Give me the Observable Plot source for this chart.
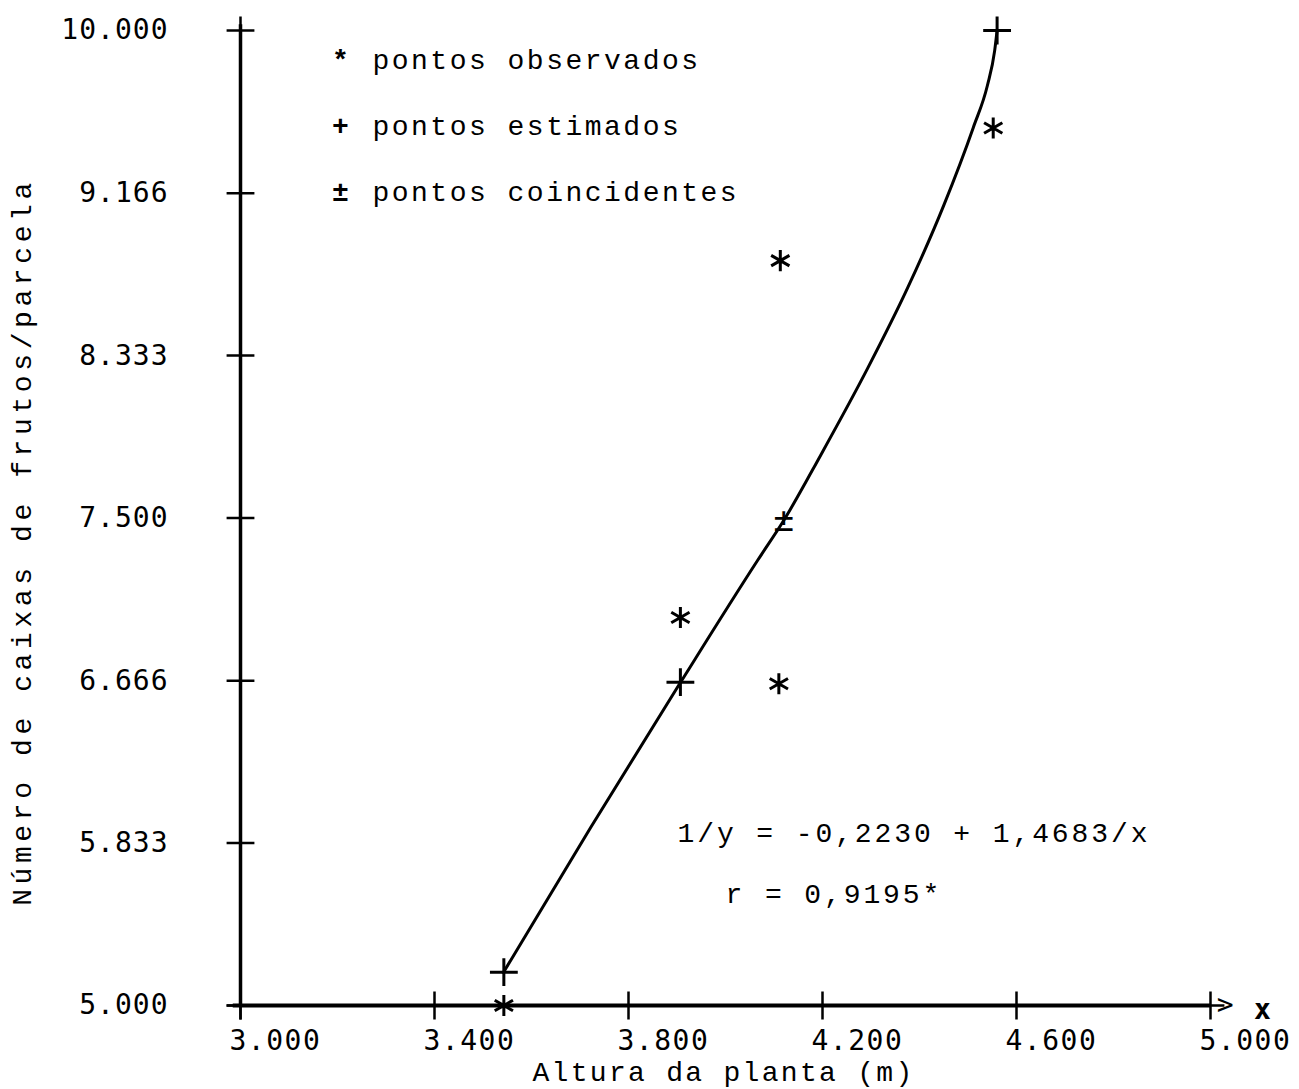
<!DOCTYPE html>
<html>
<head>
<meta charset="utf-8">
<script src="https://cdn.jsdelivr.net/npm/d3@7"></script>
<script src="https://cdn.jsdelivr.net/npm/@observablehq/plot@0.6"></script>
<style>
  html, body { margin: 0; padding: 0; background: #fff; }
  #chart svg { display: block; }
</style>
</head>
<body>
<div id="chart"></div>
<script>
// ---- data ----
const xTicks = [3.0, 3.4, 3.8, 4.2, 4.6, 5.0];
const xTickLabels = ["3.000", "3.400", "3.800", "4.200", "4.600", "5.000"];
const yTicks = [5.0, 5.833, 6.666, 7.5, 8.333, 9.166, 10.0];
const yTickLabels = ["5.000", "5.833", "6.666", "7.500", "8.333", "9.166", "10.000"];

// observed points (*)
const obsX = [3.543, 3.907, 4.113, 4.110, 4.552];
const obsY = [5.0, 6.99, 8.82, 6.65, 9.50];
// estimated points (+)
const estX = [3.543, 3.907, 4.560];
const estY = [5.171, 6.658, 10.0];
// coincident point (observed = estimated)
const coinX = [4.120];
const coinY = [7.487];

// hand-drawn fitted curve, read along its path
const curveX = [3.542, 3.722, 3.907, 4.066, 4.120, 4.196, 4.293, 4.375, 4.450, 4.511, 4.540, 4.555, 4.560];
const curveY = [5.169, 5.913, 6.656, 7.282, 7.487, 7.821, 8.267, 8.677, 9.103, 9.503, 9.718, 9.897, 10.0];

const legendSymbols = ["*", "+", "±"];
const legendLabels = ["pontos observados", "pontos estimados", "pontos coincidentes"];

const equationText = "1/y = -0,2230 + 1,4683/x";
const rText = "r = 0,9195*";
const xTitle = "Altura da planta (m)";
const yTitle = "Número de caixas de frutos/parcela";

// ---- tables ----
const obs = obsX.map((x, i) => ({x, y: obsY[i]}));
const est = estX.map((x, i) => ({x, y: estY[i]}));
const coin = coinX.map((x, i) => ({x, y: coinY[i]}));
const curve = curveX.map((x, i) => ({x, y: curveY[i]}));
const legend = legendLabels.map((label, i) => ({label, symbol: legendSymbols[i], i}));

const TYPE = "'Liberation Mono', 'Courier New', monospace";
const DOT = "'DejaVu Sans Mono', monospace";

const chart = Plot.plot({
  width: 1299,
  height: 1089,
  marginLeft: 240,
  marginRight: 89,
  marginTop: 30,
  marginBottom: 84,
  style: {background: "#fff", color: "#000", overflow: "visible"},
  x: {domain: [3, 5]},
  y: {domain: [5, 10]},
  marks: [
    // axis lines
    Plot.ruleX([3], {y1: 5, y2: 10.03, stroke: "#000", strokeWidth: 3.5}),
    Plot.ruleY([5], {x1: 2.985, x2: 5.0, stroke: "#000", strokeWidth: 4}),
    // tick crosses on the axes
    Plot.dot(yTicks, {x: () => 3, y: d => d, symbol: "plus", r: 9, stroke: "#000", strokeWidth: 2.5}),
    Plot.dot(xTicks, {x: d => d, y: () => 5, symbol: "plus", r: 9, stroke: "#000", strokeWidth: 2.5}),
    // axes (tick labels)
    Plot.axisY(yTicks, {
      tickSize: 0, tickPadding: 72,
      tickFormat: d => yTickLabels[yTicks.indexOf(d)],
      fontSize: 28, fontFamily: DOT, label: null
    }),
    Plot.axisX(xTicks, {
      tickSize: 0, tickPadding: 25,
      tickFormat: d => xTickLabels[xTicks.indexOf(d)],
      textAnchor: "start", dx: -11,
      fontSize: 28, fontFamily: DOT, label: null
    }),
    // axis titles
    Plot.text([xTitle], {frameAnchor: "bottom", lineAnchor: "middle", textAnchor: "middle", dy: 67, dx: -2, text: d => d, fontSize: 28, fontFamily: TYPE, fill: "#000"}),
    Plot.text([yTitle], {frameAnchor: "left", textAnchor: "middle", lineAnchor: "middle", rotate: -90, dx: -218, dy: 24, text: d => d, fontSize: 28, fontFamily: TYPE, fill: "#000"}),
    // arrow end and "x"
    Plot.text([">"], {x: 5.03, y: 5, text: d => d, fontSize: 28, fontFamily: DOT, fill: "#000"}),
    Plot.text(["x"], {x: 5.107, y: 4.975, text: d => d, fontSize: 28, fontFamily: DOT, fontWeight: "bold", fill: "#000"}),
    // fitted curve
    Plot.line(curve, {x: "x", y: "y", curve: "monotone-x", stroke: "#000", strokeWidth: 3}),
    // points
    Plot.dot(obs, {x: "x", y: "y", symbol: "asterisk", r: 10, stroke: "#000", strokeWidth: 3}),
    Plot.dot(est, {x: "x", y: "y", symbol: "plus", r: 9, stroke: "#000", strokeWidth: 3}),
    Plot.text(coin, {x: "x", y: "y", text: () => "±", fontSize: 34, fontFamily: DOT, fill: "#000"}),
    // legend
    Plot.text(legend, {x: () => 3.206, y: d => 9.846 - d.i * 0.338, text: "symbol", fontSize: 28, fontFamily: TYPE, fontWeight: "bold", fill: "#000"}),
    Plot.text(legend, {x: () => 3.272, y: d => 9.846 - d.i * 0.338, text: "label", textAnchor: "start", fontSize: 28, fontFamily: TYPE, fill: "#000"}),
    // equation annotations
    Plot.text([equationText], {x: 3.901, y: 5.882, text: d => d, textAnchor: "start", fontSize: 28, fontFamily: TYPE, fill: "#000"}),
    Plot.text([rText], {x: 4.0, y: 5.574, text: d => d, textAnchor: "start", fontSize: 28, fontFamily: TYPE, fill: "#000"})
  ]
});

// typewriter letter spacing
const spacing = new Map([
  [xTitle, "2.3px"], [yTitle, "4.6px"],
  [equationText, "2.9px"], [rText, "2.9px"],
  ...legendLabels.map(l => [l, "2.5px"])
]);
chart.querySelectorAll("text").forEach(t => {
  const s = spacing.get(t.textContent);
  if (s) t.style.letterSpacing = s;
});
chart.querySelectorAll("g[aria-label='y-axis tick label'] text").forEach(t => { t.style.letterSpacing = "1px"; });
chart.querySelectorAll("g[aria-label='x-axis tick label'] text").forEach(t => { t.style.letterSpacing = "1.5px"; });
document.getElementById("chart").appendChild(chart);
</script>
</body>
</html>
